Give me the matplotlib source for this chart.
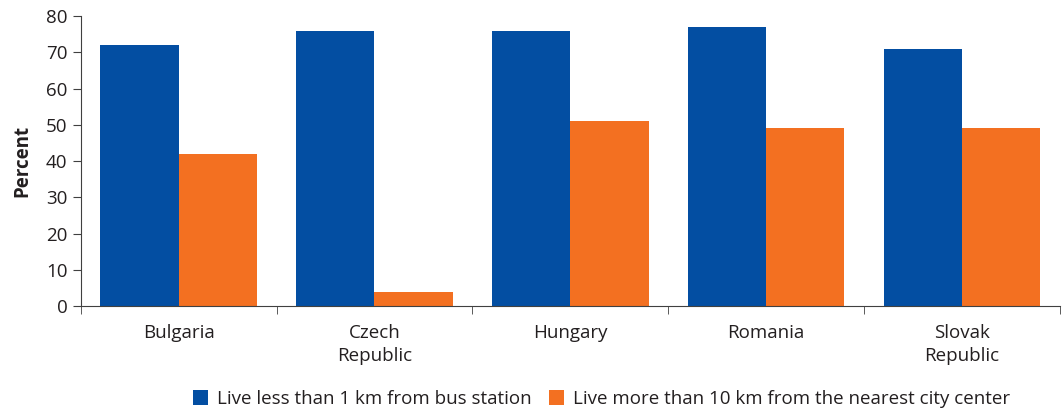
import numpy as np
import matplotlib.pyplot as plt
from matplotlib.ticker import FixedLocator, NullFormatter

# data
countries = ["Bulgaria", "Czech\nRepublic", "Hungary", "Romania", "Slovak\nRepublic"]
bus_station = [72, 76, 76, 77, 71]
far_from_city = [42, 4, 51, 49, 49]
series_labels = ["Live less than 1 km from bus station",
                 "Live more than 10 km from the nearest city center"]

blue = "#034ea2"
orange = "#f37021"
text_col = "#231f20"
fs = 13.5

plt.rcParams['font.family'] = ['Open Sans', 'DejaVu Sans']

fig = plt.figure(figsize=(10.63, 4.12), dpi=100)
ax = fig.add_axes([0.076, 0.257, 0.921, 0.704])

x = np.arange(len(countries))
w = 0.4
ax.bar(x - w / 2, bus_station, w, color=blue, label=series_labels[0])
ax.bar(x + w / 2, far_from_city, w, color=orange, label=series_labels[1])

ax.set_xlim(-0.5, len(countries) - 0.5)
ax.set_ylim(0, 80)
ax.set_yticks(range(0, 81, 10))
ax.set_xticks(x)
ax.set_xticklabels(countries, linespacing=1.35)
ax.tick_params(axis='x', which='major', length=0, pad=13, labelsize=fs, labelcolor=text_col)
ax.xaxis.set_minor_locator(FixedLocator(np.arange(-0.5, len(countries), 1)))
ax.xaxis.set_minor_formatter(NullFormatter())
ax.tick_params(axis='x', which='minor', length=6, color="#404040")
ax.tick_params(axis='y', length=6, labelsize=fs, labelcolor=text_col, color="#404040")

for s in ['top', 'right']:
    ax.spines[s].set_visible(False)
for s in ['left', 'bottom']:
    ax.spines[s].set_color("#404040")

ax.set_ylabel("Percent", fontweight='bold', fontsize=fs, color=text_col, labelpad=10)

ax.legend(loc='lower center', bbox_to_anchor=(0.532, -0.41), ncol=2, frameon=False,
          fontsize=fs, handlelength=0.8, handleheight=0.8, handletextpad=0.5,
          columnspacing=0.9, labelcolor=text_col)

fig.savefig("out.png", dpi=100)
